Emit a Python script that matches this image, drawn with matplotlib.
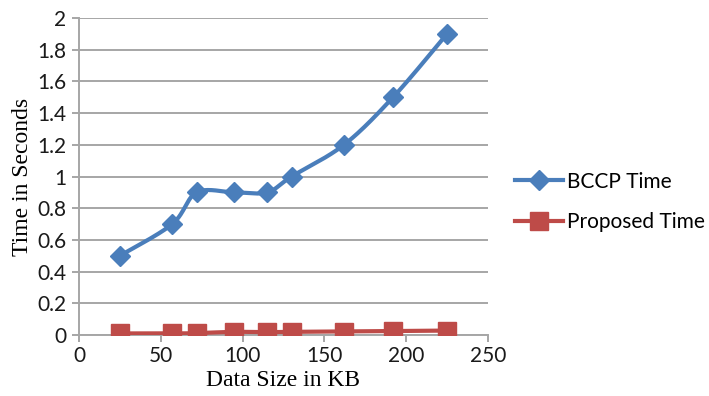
import numpy as np
import matplotlib
matplotlib.use("Agg")
import matplotlib.pyplot as plt
from matplotlib.lines import Line2D

# Data size (KB) and timing results (seconds)
data_size = [25, 57, 72, 95, 115, 130, 162, 192, 225]
bccp_time = [0.5, 0.7, 0.9, 0.9, 0.9, 1.0, 1.2, 1.5, 1.9]
proposed_time = [0.01, 0.01, 0.012, 0.02, 0.018, 0.02, 0.022, 0.025, 0.028]

x_ticks = [0, 50, 100, 150, 200, 250]
y_ticks = [0, 0.2, 0.4, 0.6, 0.8, 1, 1.2, 1.4, 1.6, 1.8, 2]

blue = "#4A7EBB"
red = "#BE4B48"
grid_col = "#A6A6A6"


def smooth(xs, ys, n=30):
    # Bezier smoothing through the points (spreadsheet-style smoothed line)
    xs = np.asarray(xs, float)
    ys = np.asarray(ys, float)
    px, py = [], []
    for i in range(len(xs) - 1):
        x0, y0 = (xs[i - 1], ys[i - 1]) if i > 0 else (xs[i], ys[i])
        x1, y1 = xs[i], ys[i]
        x2, y2 = xs[i + 1], ys[i + 1]
        x3, y3 = (xs[i + 2], ys[i + 2]) if i + 2 < len(xs) else (x2, y2)
        c1x, c1y = x1 + (x2 - x0) / 6, y1 + (y2 - y0) / 6
        c2x, c2y = x2 - (x3 - x1) / 6, y2 - (y3 - y1) / 6
        t = np.linspace(0, 1, n)
        b0, b1, b2, b3 = (1 - t) ** 3, 3 * (1 - t) ** 2 * t, 3 * (1 - t) * t ** 2, t ** 3
        px.extend(b0 * x1 + b1 * c1x + b2 * c2x + b3 * x2)
        py.extend(b0 * y1 + b1 * c1y + b2 * c2y + b3 * y2)
    return px, py


fig = plt.figure(figsize=(7.09, 3.96), dpi=100)
ax = fig.add_axes([0.1114, 0.154, 0.5768, 0.8005])

lw = 3.0
sx, sy = smooth(data_size, bccp_time)
ax.plot(sx, sy, color=blue, lw=lw, solid_capstyle="round", zorder=3)
ax.plot(data_size, bccp_time, ls="none", marker="D", ms=10, color=blue, zorder=4)

sx, sy = smooth(data_size, proposed_time)
ax.plot(sx, sy, color=red, lw=lw, solid_capstyle="round", zorder=3)
ax.plot(data_size, proposed_time, ls="none", marker="s", ms=12.5, color=red, zorder=4)

ax.set_xlim(0, 250)
ax.set_ylim(0, 2)
ax.set_xticks(x_ticks)
ax.set_yticks(y_ticks)
ax.set_xticklabels([str(v) for v in x_ticks])
ax.set_yticklabels([("%g" % v) for v in y_ticks])

ax.yaxis.grid(True, color=grid_col, lw=1.4)
ax.set_axisbelow(True)
for s in ["top", "right"]:
    ax.spines[s].set_visible(False)
for s in ["left", "bottom"]:
    ax.spines[s].set_color(grid_col)
    ax.spines[s].set_linewidth(1.4)
ax.tick_params(axis="both", colors=grid_col, width=1.4, length=5, labelcolor="#1a1a1a",
               labelsize=15)
for lbl in ax.get_xticklabels() + ax.get_yticklabels():
    lbl.set_family("Lato")
ax.tick_params(axis="y", pad=4)
ax.tick_params(axis="x", pad=3)

ax.set_xlabel("Data Size in KB", family="Liberation Serif", fontsize=17, labelpad=3)
ax.set_ylabel("Time in Seconds", family="Liberation Serif", fontsize=17, labelpad=3)

handles = [
    Line2D([], [], color=blue, lw=lw, marker="D", ms=10, label="BCCP Time"),
    Line2D([], [], color=red, lw=lw, marker="s", ms=12.5, label="Proposed Time"),
]
fig.legend(handles=handles, loc="center left", bbox_to_anchor=(0.715, 0.49), frameon=False,
           prop={"family": "Lato", "size": 15}, handlelength=2.3, handletextpad=0.2,
           labelspacing=1.0, borderaxespad=0)

fig.savefig("out.png", dpi=100)
